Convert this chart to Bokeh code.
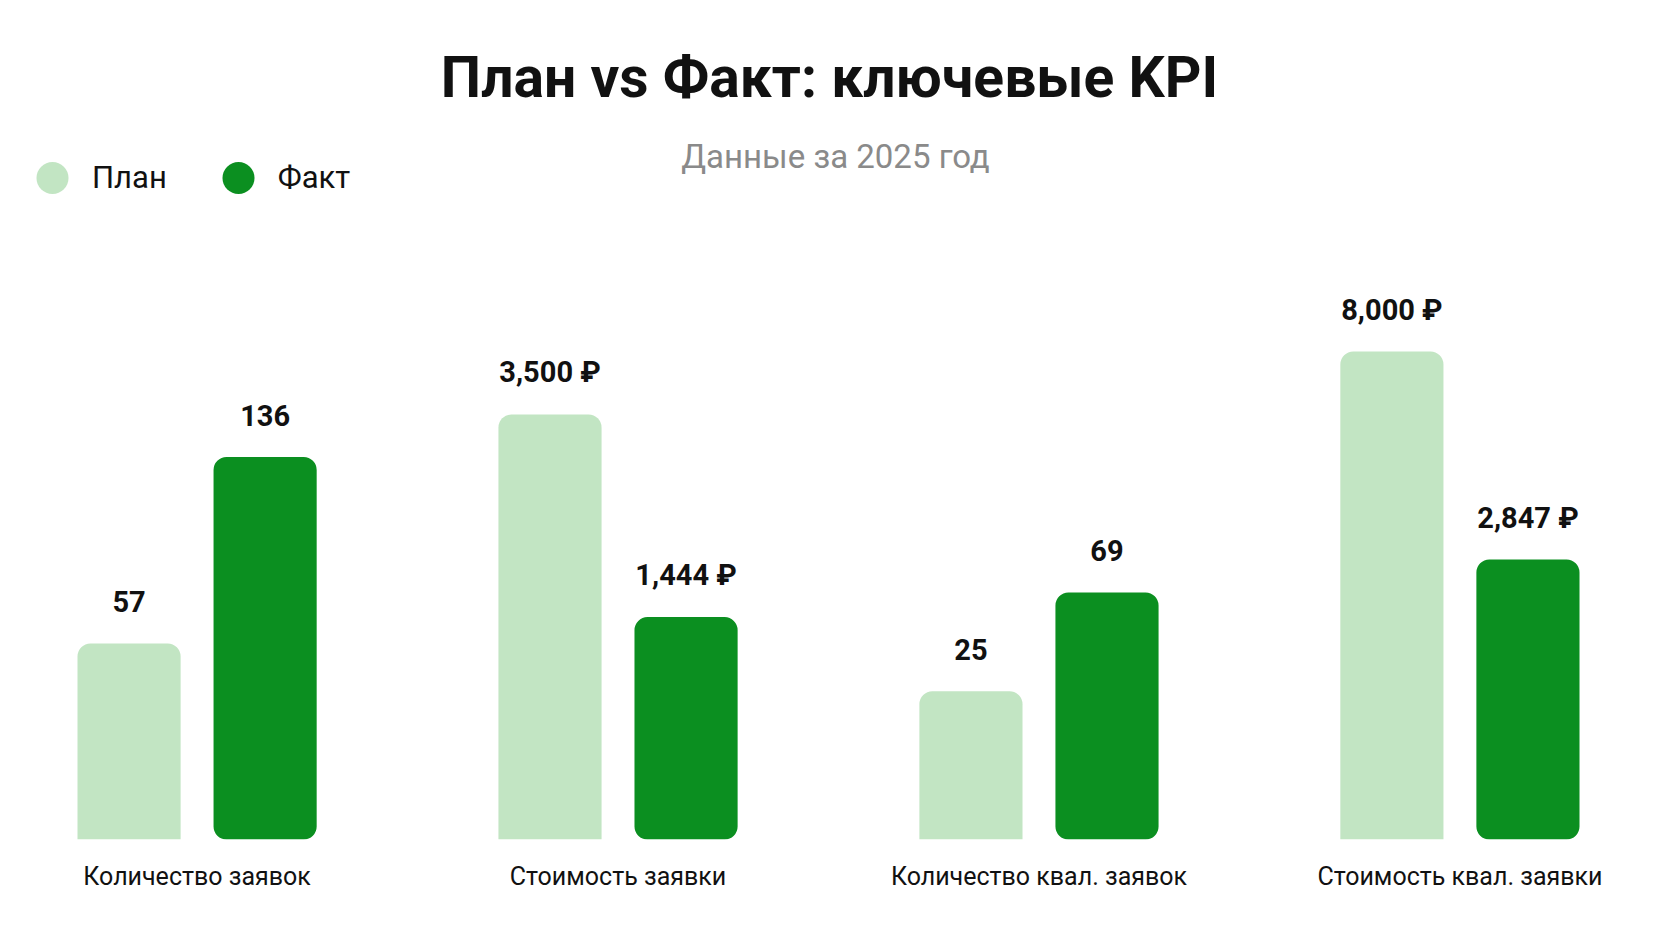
from bokeh.plotting import figure
from bokeh.models import Range1d, FixedTicker, Label, Legend, LegendItem, ColumnDataSource
from bokeh.core.properties import value
from bokeh.embed import file_html
from bokeh.resources import INLINE

kpis = ["Количество заявок", "Стоимость заявки", "Количество квал. заявок", "Стоимость квал. заявки"]
plan = [57, 3500, 25, 8000]
fact = [136, 1444, 69, 2847]
units = ["", "₽", "", "₽"]

# every KPI has its own scale (baseline below zero, like the reference)
kpi_ranges = [(-26, 326), (-813, 7620), (-41, 329), (-4090, 16500)]

PLAN_COLOR = "#c2e5c3"
FACT_COLOR = "#0b8f20"
FONT = "Roboto"

def fmt(v, u):
    s = f"{v:,}"
    return s + " " + u if u else s

p = figure(width=1664, height=932, x_range=Range1d(-0.448, 3.486), y_range=Range1d(0, 1),
           y_axis_location=None, toolbar_location=None, output_backend="svg",
           min_border_left=8, min_border_right=0, min_border_top=8, min_border_bottom=93)
p.outline_line_color = None
p.background_fill_color = "white"
p.border_fill_color = "white"
p.xgrid.grid_line_color = None
p.ygrid.grid_line_color = None

off = 0.1616
bw = 0.245
for i in range(len(kpis)):
    name = "k%d" % i
    p.extra_y_ranges[name] = Range1d(*kpi_ranges[i])
    base = kpi_ranges[i][0]
    p.vbar(x=[i - off], top=[plan[i]], bottom=base, width=bw, y_range_name=name,
           fill_color=PLAN_COLOR, line_color=None, border_radius=(13, 13, 0, 0))
    p.vbar(x=[i + off], top=[fact[i]], bottom=base, width=bw, y_range_name=name,
           fill_color=FACT_COLOR, line_color=None, border_radius=13)
    src = ColumnDataSource(dict(x=[i - off, i + off], y=[plan[i], fact[i]],
                                t=[fmt(plan[i], units[i]), fmt(fact[i], units[i])]))
    p.text(x="x", y="y", text="t", source=src, y_range_name=name, y_offset=-42,
           text_align="center", text_baseline="alphabetic", text_font=value(FONT),
           text_font_size="29px", text_font_style="bold", text_color="#111111")

ax = p.xaxis[0]
ax.ticker = FixedTicker(ticks=list(range(len(kpis))))
ax.major_label_overrides = {i: k for i, k in enumerate(kpis)}
ax.axis_line_color = None
ax.major_tick_line_color = None
ax.minor_tick_line_color = None
ax.major_tick_out = 0
ax.major_label_standoff = 22
ax.major_label_text_font = FONT
ax.major_label_text_font_size = "25px"
ax.major_label_text_color = "#111111"

p.add_layout(Label(x=821, y=762, x_units="screen", y_units="screen", text="План vs Факт: ключевые KPI",
                   text_align="center", text_baseline="middle", text_font=FONT,
                   text_font_size="57px", text_font_style="bold", text_color="#111111"))
p.add_layout(Label(x=827, y=683, x_units="screen", y_units="screen", text="Данные за 2025 год",
                   text_align="center", text_baseline="middle", text_font=FONT,
                   text_font_size="33px", text_color="#8a8a8a"))

# legend proxies: zero-size markers, the legend draws its own circles
xs = [i - off for i in range(len(kpis))]
r_plan = p.scatter(x=xs, y=[0] * len(xs), size=0, fill_color=PLAN_COLOR, line_color=None)
r_fact = p.scatter(x=xs, y=[0] * len(xs), size=0, fill_color=FACT_COLOR, line_color=None)
legend = Legend(items=[LegendItem(label="План", renderers=[r_plan]),
                       LegendItem(label="Факт", renderers=[r_fact])],
                location=(4, 619.5), orientation="horizontal",
                glyph_width=80, glyph_height=85, label_standoff=0, spacing=31,
                padding=0, margin=0, border_line_color=None, background_fill_alpha=0,
                label_text_font=FONT, label_text_font_size="31px", label_text_color="#111111")
p.add_layout(legend)

open("out.html", "w").write(file_html(p, INLINE))
